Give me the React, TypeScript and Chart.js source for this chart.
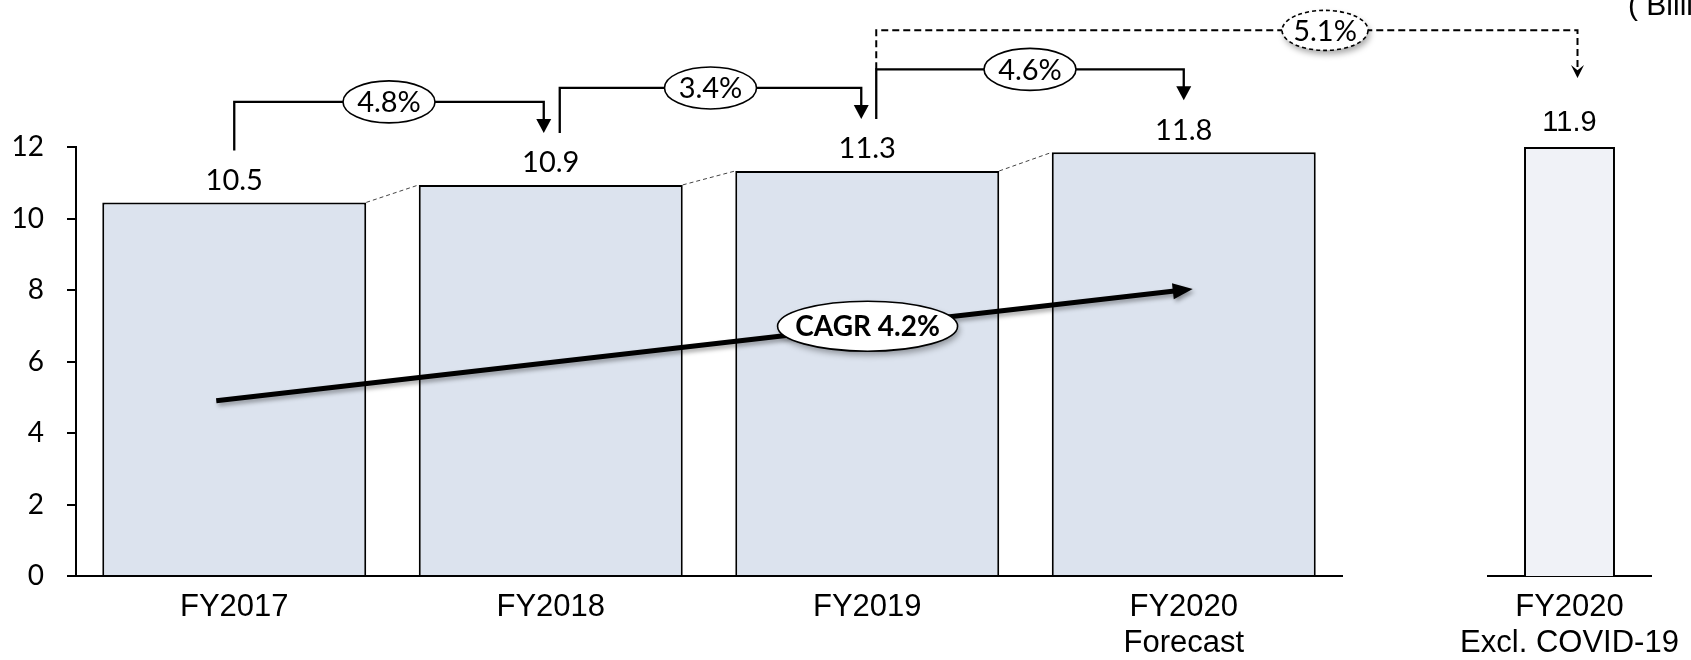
import React, { useEffect, useRef } from 'react';
import { Chart, registerables } from 'chart.js';

Chart.register(...registerables);

// ---------- data ----------
const categories: (string | string[])[] = ['FY2017', 'FY2018', 'FY2019', ['FY2020', 'Forecast']];
const revenue: number[] = [10.45, 10.94, 11.33, 11.85];
const revenueLabels: string[] = ['10.5', '10.9', '11.3', '11.8'];
const exclCategories: (string | string[])[] = [['FY2020', 'Excl. COVID-19']];
const exclRevenue: number[] = [12.0];
const exclLabels: string[] = ['11.9'];
const growthLabels: string[] = ['4.8%', '3.4%', '4.6%'];
const exclGrowthLabel = '5.1%';
const cagrLabel = 'CAGR 4.2%';
const cagrStartValue = 4.9;
const cagrEndValue = 8.03;
const yTicks: number[] = [0, 2, 4, 6, 8, 10, 12];
const unitLabel = '( Billion yen)';

// ---------- style ----------
const LATO = 'Lato, "Open Sans", sans-serif';
const ARIAL = '"Liberation Sans", Arial, sans-serif';
const W = 1691;
const H = 660;

function arrowDown(ctx: CanvasRenderingContext2D, x: number, y: number, w: number, l: number, notch = false) {
  ctx.beginPath();
  ctx.moveTo(x, y);
  ctx.lineTo(x - w / 2, y - l);
  if (notch) ctx.lineTo(x, y - l * 0.6);
  ctx.lineTo(x + w / 2, y - l);
  ctx.closePath();
  ctx.fill();
}

function ellipseLabel(
  ctx: CanvasRenderingContext2D,
  cx: number,
  cy: number,
  rx: number,
  ry: number,
  text: string,
  font: string,
  dashed: boolean,
  shadow: boolean
) {
  ctx.save();
  if (shadow) {
    ctx.shadowColor = 'rgba(0,0,0,0.35)';
    ctx.shadowBlur = 6;
    ctx.shadowOffsetX = 2;
    ctx.shadowOffsetY = 4;
  }
  ctx.beginPath();
  ctx.ellipse(cx, cy, rx, ry, 0, 0, Math.PI * 2);
  ctx.fillStyle = '#fff';
  ctx.fill();
  ctx.shadowColor = 'transparent';
  ctx.lineWidth = 1.6;
  ctx.strokeStyle = '#000';
  ctx.setLineDash(dashed ? [4, 3] : []);
  ctx.stroke();
  ctx.setLineDash([]);
  ctx.fillStyle = '#000';
  ctx.font = font;
  ctx.textAlign = 'center';
  ctx.textBaseline = 'middle';
  ctx.fillText(text, cx, cy + 1);
  ctx.restore();
}

function connector(
  ctx: CanvasRenderingContext2D,
  x1: number,
  y1: number,
  x2: number,
  y2: number,
  level: number,
  label: string,
  t: number,
  dashed: boolean
) {
  ctx.save();
  ctx.strokeStyle = '#000';
  ctx.fillStyle = '#000';
  ctx.lineWidth = dashed ? 2 : 2.3;
  ctx.setLineDash(dashed ? [7, 4] : []);
  const head = dashed ? 13 : 14;
  const hw = dashed ? 13 : 15;
  ctx.beginPath();
  ctx.moveTo(x1, y1);
  ctx.lineTo(x1, level);
  ctx.lineTo(x2, level);
  ctx.lineTo(x2, y2 - head + 2);
  ctx.stroke();
  ctx.setLineDash([]);
  arrowDown(ctx, x2, y2, hw, head, dashed);
  const cx = x1 + (x2 - x1) * t;
  ellipseLabel(ctx, cx, level, dashed ? 43 : 46, dashed ? 20 : 21, label, `29px ${LATO}`, dashed, dashed);
  ctx.restore();
}

export default function App() {
  const mainRef = useRef<HTMLCanvasElement>(null);
  const exclRef = useRef<HTMLCanvasElement>(null);

  useEffect(() => {
    if (!mainRef.current || !exclRef.current) return;

    const xScaleBase = (labelsFontSize: number) => ({
      grid: { display: false, drawTicks: false },
      border: { display: true, color: '#000', width: 2 },
      ticks: {
        color: '#000',
        font: { family: ARIAL, size: labelsFontSize, lineHeight: 36 / labelsFontSize },
        padding: 13,
        maxRotation: 0,
        autoSkip: false,
      },
      afterFit: (s: any) => {
        s.height = 84;
        s.paddingLeft = 0;
        s.paddingRight = 0;
      },
    });

    // --- secondary chart (FY2020 excl. COVID-19) ---
    const exclChart = new Chart(exclRef.current, {
      type: 'bar',
      data: {
        labels: exclCategories as any,
        datasets: [
          {
            data: exclRevenue,
            backgroundColor: '#F0F2F7',
            borderColor: '#000',
            borderWidth: 2,
            borderSkipped: 'bottom',
            barPercentage: 0.558,
            categoryPercentage: 1,
          },
        ],
      },
      options: {
        responsive: false,
        animation: false,
        events: [],
        layout: { padding: { top: 147, left: 1488, right: 40, bottom: 0 } },
        plugins: { legend: { display: false }, tooltip: { enabled: false } },
        scales: {
          x: xScaleBase(31) as any,
          y: { display: false, min: 0, max: 12 },
        },
      },
      plugins: [
        {
          id: 'exclLabels',
          afterDraw(chart: any) {
            const ctx = chart.ctx as CanvasRenderingContext2D;
            const bars = chart.getDatasetMeta(0).data as any[];
            ctx.save();
            ctx.fillStyle = '#000';
            ctx.font = `29px ${ARIAL}`;
            ctx.textAlign = 'center';
            ctx.textBaseline = 'middle';
            bars.forEach((b, i) => ctx.fillText(exclLabels[i], b.x, b.y - 24));
            ctx.restore();
          },
        },
      ],
    });

    // --- main chart ---
    const mainChart = new Chart(mainRef.current, {
      type: 'bar',
      data: {
        labels: categories as any,
        datasets: [
          {
            data: revenue,
            backgroundColor: '#DCE3EE',
            borderColor: '#000',
            borderWidth: 2,
            borderSkipped: 'bottom',
            barPercentage: 0.834,
            categoryPercentage: 1,
          },
        ],
      },
      options: {
        responsive: false,
        animation: false,
        events: [],
        layout: { padding: { top: 147, right: W - 1342, left: 0, bottom: 0 } },
        plugins: { legend: { display: false }, tooltip: { enabled: false } },
        scales: {
          x: xScaleBase(31) as any,
          y: {
            min: 0,
            max: 12,
            afterBuildTicks: (s: any) => {
              s.ticks = yTicks.map((v) => ({ value: v }));
            },
            ticks: { color: '#000', font: { family: LATO, size: 28 }, padding: 23 },
            grid: { drawOnChartArea: false, tickLength: 9, color: '#000', lineWidth: 2 },
            border: { display: true, color: '#000', width: 2 },
            afterFit: (s: any) => {
              s.width = 76;
              s.paddingTop = 0;
              s.paddingBottom = 0;
            },
          } as any,
        },
      },
      plugins: [
        {
          id: 'annotations',
          afterDraw(chart: any) {
            const ctx = chart.ctx as CanvasRenderingContext2D;
            const bars = chart.getDatasetMeta(0).data as any[];
            const yScale = chart.scales.y;
            ctx.save();

            // value labels
            ctx.fillStyle = '#000';
            ctx.font = `29px ${LATO}`;
            ctx.textAlign = 'center';
            ctx.textBaseline = 'middle';
            bars.forEach((b, i) => ctx.fillText(revenueLabels[i], b.x, b.y - 22));

            // dashed links between bar tops
            ctx.strokeStyle = '#444';
            ctx.lineWidth = 1;
            ctx.setLineDash([4, 3]);
            for (let i = 0; i < bars.length - 1; i++) {
              const a = bars[i];
              const n = bars[i + 1];
              ctx.beginPath();
              ctx.moveTo(a.x + a.width / 2, a.y);
              ctx.lineTo(n.x - n.width / 2, n.y);
              ctx.stroke();
            }
            ctx.setLineDash([]);

            // year-on-year growth connectors
            const startOff = [0, 9, 9];
            const endOff = [-7, -6, 0];
            let lastLevel = 0;
            let lastStartX = 0;
            growthLabels.forEach((lab, i) => {
              const a = bars[i];
              const n = bars[i + 1];
              const level = Math.min(a.y, n.y) - 83;
              connector(ctx, a.x + startOff[i], a.y - 52, n.x + endOff[i], n.y - 52, level, lab, 0.5, false);
              lastLevel = level;
              lastStartX = a.x + startOff[i];
            });

            // dashed connector to the excl. COVID-19 bar
            const eb = (exclChart.getDatasetMeta(0).data as any[])[0];
            if (eb) {
              connector(ctx, lastStartX, lastLevel, eb.x + 8, eb.y - 69, lastLevel - 39, exclGrowthLabel, 0.64, true);
            }

            // CAGR arrow
            const sx = bars[0].x - 18;
            const sy = yScale.getPixelForValue(cagrStartValue);
            const ex = bars[bars.length - 1].x + 9;
            const ey = yScale.getPixelForValue(cagrEndValue);
            const ang = Math.atan2(ey - sy, ex - sx);
            const hl = 20;
            const hw = 8;
            ctx.save();
            ctx.shadowColor = 'rgba(0,0,0,0.35)';
            ctx.shadowBlur = 4;
            ctx.shadowOffsetX = 2;
            ctx.shadowOffsetY = 3;
            ctx.strokeStyle = '#000';
            ctx.fillStyle = '#000';
            ctx.lineWidth = 5;
            ctx.beginPath();
            ctx.moveTo(sx, sy);
            ctx.lineTo(ex - Math.cos(ang) * (hl - 4), ey - Math.sin(ang) * (hl - 4));
            ctx.stroke();
            ctx.beginPath();
            ctx.moveTo(ex, ey);
            ctx.lineTo(ex - Math.cos(ang) * hl - Math.sin(ang) * hw, ey - Math.sin(ang) * hl + Math.cos(ang) * hw);
            ctx.lineTo(ex - Math.cos(ang) * hl + Math.sin(ang) * hw, ey - Math.sin(ang) * hl - Math.cos(ang) * hw);
            ctx.closePath();
            ctx.fill();
            ctx.restore();
            const t = 0.667;
            ellipseLabel(ctx, sx + (ex - sx) * t, sy + (ey - sy) * t, 90, 25, cagrLabel, `bold 28px ${LATO}`, false, true);

            // unit label (clipped by the page edge)
            ctx.fillStyle = '#000';
            ctx.font = `30px ${ARIAL}`;
            ctx.textAlign = 'left';
            ctx.textBaseline = 'alphabetic';
            ctx.fillText(unitLabel, 1628, 15);

            ctx.restore();
          },
        },
      ],
    });

    return () => {
      mainChart.destroy();
      exclChart.destroy();
    };
  }, []);

  const canvasStyle: React.CSSProperties = {
    position: 'absolute',
    left: 0,
    top: 0,
    width: W,
    height: H,
    display: 'block',
  };

  return (
    <div style={{ position: 'absolute', left: 0, top: 0, width: W, height: H, overflow: 'hidden', background: '#fff' }}>
      <canvas ref={mainRef} width={W} height={H} style={canvasStyle} />
      <canvas ref={exclRef} width={W} height={H} style={canvasStyle} />
    </div>
  );
}
